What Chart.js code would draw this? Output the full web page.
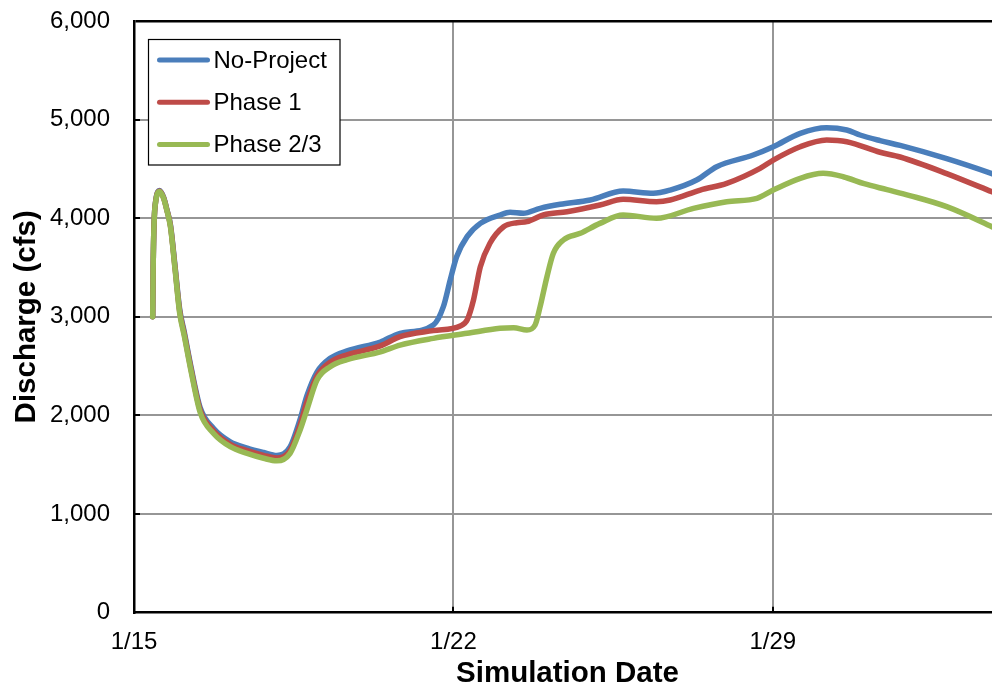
<!DOCTYPE html>
<html>
<head>
<meta charset="utf-8">
<script src="https://cdn.jsdelivr.net/npm/chart.js@4.4.0/dist/chart.umd.min.js"></script>
<style>
  html, body { margin: 0; padding: 0; overflow: hidden; background: #fff; }
  #wrap { width: 1002px; height: 694px; }
</style>
</head>
<body>
<div id="wrap"><canvas id="c" width="1002" height="694"></canvas></div>
<script>
// Date axis: days after 1/15, labelled weekly
const dateLabels = ['1/15', '1/22', '1/29'];
const dateTickDays = [0, 7, 14];
const seriesNames = ['No-Project', 'Phase 1', 'Phase 2/3'];

// No-Project discharge (cfs)
const noProjectDays = [0.41, 0.42, 0.44, 0.48, 0.56, 0.65, 0.72, 0.8, 0.9, 1.0, 1.1, 1.25, 1.45, 1.74, 2.11, 2.48, 2.84, 3.13, 3.42, 3.64, 3.79, 4.01, 4.3, 4.67, 5.4, 5.83, 6.56, 6.78, 6.93, 7.07, 7.3, 7.59, 8.02, 8.24, 8.53, 8.9, 9.34, 10.0, 10.72, 11.38, 11.75, 12.33, 12.77, 13.57, 14.01, 14.6, 15.18, 15.62, 15.91, 16.35, 16.79, 17.81, 18.8, 19.0];
const noProjectCfs = [3000, 3500, 3950, 4190, 4280, 4210, 4090, 3930, 3510, 3080, 2850, 2490, 2080, 1870, 1733, 1670, 1625, 1595, 1680, 1960, 2200, 2440, 2580, 2655, 2745, 2833, 2917, 3103, 3374, 3610, 3813, 3948, 4033, 4060, 4050, 4100, 4141, 4185, 4276, 4253, 4286, 4388, 4523, 4641, 4725, 4861, 4918, 4895, 4844, 4787, 4738, 4604, 4453, 4420];

// Phase 1 discharge (cfs)
const phase1Days = [0.41, 0.42, 0.44, 0.48, 0.56, 0.65, 0.72, 0.8, 0.9, 1.0, 1.1, 1.25, 1.45, 1.74, 2.11, 2.48, 2.84, 3.13, 3.42, 3.64, 3.79, 4.01, 4.3, 4.67, 5.4, 5.83, 6.56, 7.15, 7.3, 7.44, 7.59, 7.8, 8.1, 8.39, 8.61, 8.97, 9.49, 10.21, 10.72, 11.45, 11.75, 12.41, 12.99, 13.72, 14.01, 14.6, 15.18, 15.62, 16.35, 16.79, 17.81, 18.8, 19.0];
const phase1Cfs = [3000, 3500, 3950, 4185, 4275, 4205, 4085, 3920, 3495, 3060, 2830, 2470, 2055, 1845, 1708, 1643, 1596, 1568, 1645, 1905, 2140, 2400, 2540, 2615, 2705, 2799, 2860, 2907, 2968, 3171, 3508, 3746, 3914, 3955, 3965, 4033, 4066, 4134, 4192, 4168, 4185, 4286, 4354, 4506, 4590, 4725, 4793, 4776, 4669, 4621, 4453, 4268, 4230];

// Phase 2/3 discharge (cfs)
const phase23Days = [0.41, 0.42, 0.44, 0.48, 0.56, 0.65, 0.72, 0.8, 0.9, 1.0, 1.1, 1.25, 1.45, 1.74, 2.11, 2.48, 2.84, 3.13, 3.42, 3.64, 3.79, 4.01, 4.3, 4.67, 5.4, 5.83, 6.56, 7.3, 8.02, 8.32, 8.61, 8.79, 8.9, 9.05, 9.19, 9.41, 9.78, 10.21, 10.72, 11.45, 12.26, 12.99, 13.65, 14.01, 14.6, 15.1, 15.54, 16.0, 16.5, 17.0, 17.81, 18.8, 19.0];
const phase23Cfs = [3000, 3500, 3950, 4180, 4270, 4200, 4080, 3910, 3480, 3040, 2810, 2450, 2030, 1820, 1683, 1616, 1566, 1540, 1616, 1853, 2060, 2360, 2494, 2565, 2645, 2714, 2782, 2833, 2884, 2890, 2866, 2917, 3103, 3407, 3644, 3779, 3847, 3948, 4033, 3999, 4100, 4168, 4202, 4286, 4405, 4455, 4421, 4350, 4290, 4230, 4117, 3914, 3870];

const seriesColors = ['#4a7ebb', '#be4b48', '#98b954'];
const FONT = "'Liberation Sans', Arial, sans-serif";

const toPoints = (days, cfs) => days.map((d, i) => ({ x: d, y: cfs[i] }));

// Legend box drawn inside the plot, top-left
const insetLegend = {
  id: 'insetLegend',
  afterDraw(chart) {
    const { ctx, chartArea } = chart;
    const x0 = chartArea.left + 14.5, y0 = chartArea.top + 18.5;
    const w = 191.5, h = 125.5;
    ctx.save();
    ctx.fillStyle = '#fff';
    ctx.fillRect(x0, y0, w, h);
    ctx.strokeStyle = '#000';
    ctx.lineWidth = 1.2;
    ctx.strokeRect(x0, y0, w, h);
    ctx.font = `24px ${FONT}`;
    ctx.textBaseline = 'middle';
    ctx.textAlign = 'left';
    chart.data.datasets.forEach((ds, i) => {
      const y = y0 + 20.5 + i * 42.2;
      ctx.strokeStyle = ds.borderColor;
      ctx.lineWidth = 5;
      ctx.lineCap = 'round';
      ctx.beginPath();
      ctx.moveTo(x0 + 11, y);
      ctx.lineTo(x0 + 59, y);
      ctx.stroke();
      ctx.fillStyle = '#000';
      ctx.fillText(ds.label, x0 + 65, y + 1);
    });
    ctx.restore();
  }
};

// Short inward tick marks on both axes
const innerTicks = {
  id: 'innerTicks',
  afterDatasetsDraw(chart) {
    const { ctx, chartArea, scales } = chart;
    ctx.save();
    ctx.strokeStyle = '#000';
    ctx.lineWidth = 2;
    scales.y.ticks.forEach(t => {
      if (t.value <= 0 || t.value >= 6000) return;
      const y = Math.round(scales.y.getPixelForValue(t.value));
      ctx.beginPath();
      ctx.moveTo(chartArea.left, y);
      ctx.lineTo(chartArea.left + 6, y);
      ctx.stroke();
    });
    scales.x.ticks.forEach(t => {
      if (t.value <= 0) return;
      const x = Math.round(scales.x.getPixelForValue(t.value));
      ctx.beginPath();
      ctx.moveTo(x, chartArea.bottom);
      ctx.lineTo(x, chartArea.bottom - 6);
      ctx.stroke();
    });
    ctx.restore();
  }
};

Chart.defaults.color = '#000';
Chart.defaults.font.family = FONT;

new Chart(document.getElementById('c'), {
  type: 'line',
  data: {
    datasets: [
      { label: seriesNames[0], data: toPoints(noProjectDays, noProjectCfs), borderColor: seriesColors[0], order: 2 },
      { label: seriesNames[1], data: toPoints(phase1Days, phase1Cfs), borderColor: seriesColors[1], order: 1 },
      { label: seriesNames[2], data: toPoints(phase23Days, phase23Cfs), borderColor: seriesColors[2], order: 0 }
    ]
  },
  options: {
    responsive: false,
    animation: false,
    layout: { padding: { top: 21, right: 1, left: 0, bottom: 0 } },
    elements: {
      line: { borderWidth: 5.5, cubicInterpolationMode: 'monotone', borderCapStyle: 'round', borderJoinStyle: 'round', fill: false },
      point: { radius: 0, hoverRadius: 0 }
    },
    plugins: { legend: { display: false }, tooltip: { enabled: false } },
    scales: {
      x: {
        type: 'linear',
        min: 0,
        max: 19,
        afterBuildTicks: scale => { scale.ticks = dateTickDays.map(v => ({ value: v })); },
        afterFit: scale => {
          scale.height = 81.3;
          scale.paddingLeft = 0; scale.paddingRight = 0;
        },
        ticks: {
          callback: v => dateLabels[dateTickDays.indexOf(v)],
          font: { size: 24 },
          padding: 15,
          maxRotation: 0
        },
        grid: {
          drawTicks: false,
          color: ctx => (ctx.tick && ctx.tick.value === 0) ? 'rgba(0,0,0,0)' : '#969696',
          lineWidth: 2
        },
        border: { color: '#000', width: 2.5 },
        title: {
          display: true,
          text: 'Simulation Date',
          font: { size: 29.5, weight: 'bold' },
          padding: { top: 0, bottom: 2 }
        }
      },
      y: {
        min: 0,
        max: 6000,
        afterFit: scale => {
          scale.width = 134;
          scale.paddingTop = 0; scale.paddingBottom = 0;
        },
        ticks: {
          stepSize: 1000,
          callback: v => v.toLocaleString('en-US'),
          font: { size: 24 },
          padding: 24
        },
        grid: {
          drawTicks: false,
          color: ctx => {
            const v = ctx.tick ? ctx.tick.value : null;
            if (v === 6000) return '#000';
            if (v === 0) return 'rgba(0,0,0,0)';
            return '#969696';
          },
          lineWidth: ctx => (ctx.tick && ctx.tick.value === 6000) ? 2.5 : 2
        },
        border: { color: '#000', width: 2.5 },
        title: {
          display: true,
          text: 'Discharge (cfs)',
          font: { size: 29.5, weight: 'bold' },
          padding: { top: 9, bottom: 0 }
        }
      }
    }
  },
  plugins: [insetLegend, innerTicks]
});
</script>
</body>
</html>
